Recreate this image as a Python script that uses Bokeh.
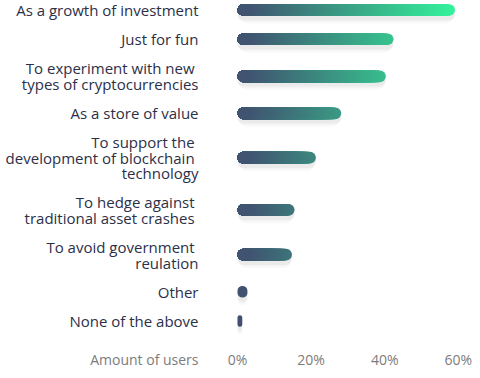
import numpy as np
from bokeh.plotting import figure
from bokeh.models import ColumnDataSource, Range1d
from bokeh.embed import file_html
from bokeh.resources import INLINE
from bokeh.core.properties import value

# ---- data ----
categories = [
    "As a growth of investment",
    "Just for fun",
    "To experiment with new \ntypes of cryptocurrencies",
    "As a store of value",
    "To support the \ndevelopment of blockchain \ntechnology",
    "To hedge against \ntraditional  asset crashes",
    "To avoid government \nreulation",
    "Other",
    "None of the above",
]
shares = [59.1, 42.4, 40.3, 28.2, 21.3, 15.5, 14.8, 2.7, 1.3]
x_ticks = [0, 20, 40, 60]
x_tick_labels = ["0%", "20%", "40%", "60%"]
axis_title = "Amount of users"

# ---- layout helpers (row centres from number of text lines) ----
row_h = {1: 30, 2: 46, 3: 61}
lines = [c.count("\n") + 1 for c in categories]
centers = [8.5]
for i in range(1, len(categories)):
    centers.append(centers[-1] + (row_h[lines[i - 1]] + row_h[lines[i]]) / 2)
tick_row = 367

W, H = 472, 370
px_per_pct = 3.68
zero_px = 237
x_start = -zero_px / px_per_pct
x_end = (W - zero_px) / px_per_pct
label_x = (198 - zero_px) / px_per_pct

# vertical mapping: canvas = 9 + (ref - 8) * s
s = 0.975
y_top = 8 - 9 / s
y_bot = 8 + (H - 9) / s

c_lo = np.array([0x41, 0x4a, 0x6e], dtype=float)
c_hi = np.array([0x34, 0xf5, 0x9c], dtype=float)
grad_end = 60.0


def grad(x):
    t = min(max(x / grad_end, 0.0), 1.0)
    c = c_lo + (c_hi - c_lo) * t
    return "#%02x%02x%02x" % tuple(int(round(v)) for v in c)


min_w = 12 / px_per_pct  # pill width so left caps stay round
step = 0.35

py, pr, pc = [], [], []
for c, v in zip(centers, shares):
    if v <= min_w:
        rights = [v]
    else:
        rights = list(np.arange(v, min_w, -step)) + [min_w]
    for r in rights:
        py.append(c)
        pr.append(float(r))
        pc.append(grad(r))
pieces = ColumnDataSource(dict(y=py, right=pr, color=pc))

bars = ColumnDataSource(dict(y=centers, right=shares,
                             ysh=[c + 4 for c in centers]))
labels = ColumnDataSource(dict(y=centers, text=categories,
                               x=[label_x] * len(categories)))
ticks = ColumnDataSource(dict(x=x_ticks, text=x_tick_labels,
                              y=[tick_row] * len(x_ticks)))

p = figure(width=W, height=H, output_backend="svg", toolbar_location=None,
           x_range=Range1d(x_start, x_end), y_range=Range1d(y_bot, y_top),
           x_axis_location=None, y_axis_location=None, min_border=0)
p.outline_line_color = None
p.xgrid.visible = False
p.ygrid.visible = False
p.background_fill_color = "white"
p.border_fill_color = "white"

# soft shadow
for h, a in [(20, 0.018), (16, 0.025), (13, 0.035)]:
    p.hbar(y="ysh", left=0, right="right", height=h, source=bars,
           fill_color="#000000", fill_alpha=a, line_color=None,
           border_radius=int(h // 2))

# gradient bars (stacked pills)
p.hbar(y="y", left=0, right="right", height=12, source=pieces,
       fill_color="color", line_color=None, border_radius=6)

# category labels
p.text(x="x", y="y", text="text", source=labels, text_align="right",
       text_baseline="middle", text_font=value("Open Sans"),
       text_font_size="15px", text_color="#2c2f48", text_line_height=0.78)

# value-axis tick labels and title
p.text(x="x", y="y", text="text", source=ticks, text_align="center",
       text_baseline="middle", text_font=value("Open Sans"),
       text_font_size="14px", text_color="#7c7c7c")
p.text(x=[label_x], y=[tick_row], text=[axis_title], text_align="right",
       text_baseline="middle", text_font=value("Open Sans"),
       text_font_size="14px", text_color="#7c7c7c")

open("out.html", "w").write(file_html(p, INLINE))
